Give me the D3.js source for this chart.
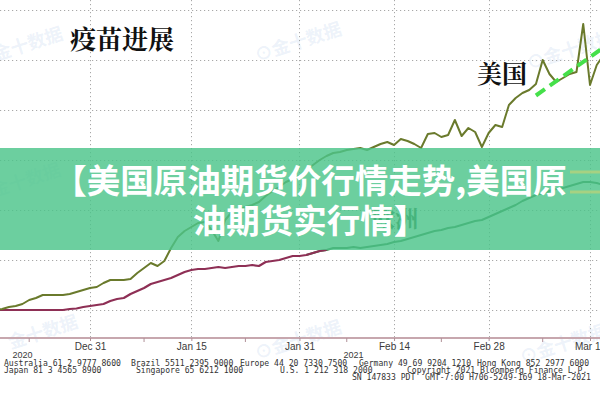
<!DOCTYPE html>
<html><head><meta charset="utf-8">
<script src="https://cdn.jsdelivr.net/npm/d3@7"></script>
<style>html,body{margin:0;padding:0;background:#fff;} svg{display:block}</style>
</head><body><svg id="c" width="600" height="400"></svg>
<script>
// ---------- data ----------
const usStart = "2020-12-17";
const usValues = [0,0.2,0.6,0.8,1.2,2,2.4,3,3,3,3,3.2,3.6,4,
  4.4,4.6,5.4,6,6,6,6.2,7.4,8.4,9.4,8.8,9.8,12.4,14.6,15.8,16.6,17.4,17.6,16,13.8,18,19.6,20.2,20.6,21,21.6,22.8,23.8,24.6,25.6,26.2,26.8,
  28,29,30,30.8,31.4,31.6,32,32.2,32.4,32,32.6,33.2,33.6,33,34.2,33.8,33.2,32.4,35.2,35.4,34.6,35,38,34.8,36.4,35.6,32.6,
  35.4,37,36.6,41,42.4,43.4,44,45.2,50,47.2,45.6,46.4,47.2,47.6,57.2,45,49,51];
const maroonStart = "2020-12-17";
const maroonValues = [0,0,0,0,0,0,0,0,0,0,0,0.2,0.3,0.6,
  0.8,1,1.2,1.8,2.2,2.4,3.2,3.8,4.4,5.2,5.6,6,6.4,7,7.6,8,8.2,8.2,8.4,8.6,8.4,8.6,8.8,8.8,9,8.8,9.6,9.8,10,10.4,10.8,10.8,
  11,11.4,11.8,12];
const europeStart = "2021-02-01";
const europeValues = [11,11.4,11.8,12,12.4,12.4,12.4,12.6,12.4,12.6,12.8,13,13.2,13.6,13.8,14.2,14.6,15,15.4,15.8,16,16.4,16.6,17,17.4,17.8,18,
  18.6,19.2,19.8,20.4,21,21.8,22.4,23,23.4,23.8,24.2,24.4,24.8,25.2,25.6,25.6,25.4,25];
const trendDates = ["2021-03-07","2021-03-17"];
const trendValues = [42.9, 52.5];
const tickDates = ["2020-12-31","2021-01-15","2021-01-31","2021-02-14","2021-02-28","2021-03-15"];
const tickLabels = ["Dec 31","Jan 15","Jan 31","Feb 14","Feb 28","Mar 15"];
const minorTickDates = ["2020-12-22","2021-01-08","2021-01-23","2021-02-07","2021-02-21","2021-03-08"];
const yGridValues = [0,10,20,30,40,50,60];
const yearLabels = [["2020","2020-12-21"],["2021","2021-02-08"]];
const title = "疫苗进展";
const usLabel = "美国";
const euLabel = "欧洲";
const bannerLines = ["【美国原油期货价行情走势,美国原","油期货实行情】"];
const footer = [
  ["Australia 61 2 9777 8600",4,366],["Brazil 5511 2395 9000",131,366],["Europe 44 20 7330 7500",240,366],
  ["Germany 49 69 9204 1210",359,366],["Hong Kong 852 2977 6000",477,366],
  ["Japan 81 3 4565 8900",4,373],["Singapore 65 6212 1000",136,373],["U.S. 1 212 318 2000",280,373],
  ["Copyright 2021 Bloomberg Finance L.P.",407,373],
  ["SN 147833 PDT  GMT-7:00 H706-5249-169 18-Mar-2021",352,380]
];
const watermarks = [["金十数据",30,50],["⊙金十数据",300,48],["⊙金十数据",572,56],["金十数据",28,186],
  ["金十数据",45,338],["⊙金十数据",300,346],["⊙金十数据",565,350]];

// ---------- setup ----------
const parse = d3.utcParse("%Y-%m-%d");
const svg = d3.select("#c");
const x = d3.scaleUtc().domain([parse("2020-12-31"), parse("2021-03-15")]).range([90, 590]);
const y = d3.scaleLinear().domain([0, 60]).range([310, 10]);
const series = (start, vals) => vals.map((v,i)=>({d: d3.utcDay.offset(parse(start), i), v}));
const line = d3.line().x(p=>x(p.d)).y(p=>y(p.v));

svg.append("rect").attr("width",600).attr("height",400).attr("fill","#fff");

// watermarks
svg.append("g").selectAll("text").data(watermarks).join("text")
  .attr("transform", d=>`translate(${d[1]},${d[2]}) rotate(-18)`)
  .attr("text-anchor","middle").attr("font-family","Noto Sans CJK SC").attr("font-weight","bold")
  .attr("font-size",18).attr("fill","rgba(120,160,215,0.14)").text(d=>d[0]);

// grid
const grid = svg.append("g").attr("stroke","#a8a8a8").attr("stroke-width",1).attr("stroke-dasharray","1.2,2.8");
grid.selectAll(".h").data(yGridValues).join("line").attr("x1",0).attr("x2",600)
  .attr("y1",d=>y(d)+0.5).attr("y2",d=>y(d)+0.5);
grid.selectAll(".v").data(tickDates).join("line").attr("y1",0).attr("y2",338)
  .attr("x1",d=>Math.round(x(parse(d)))+0.5).attr("x2",d=>Math.round(x(parse(d)))+0.5);

// europe label (under banner)
svg.append("text").attr("x",372).attr("y",227).attr("font-family","Noto Serif CJK SC, Noto Sans CJK SC")
  .attr("font-weight","bold").attr("font-size",23).attr("fill","#2f6a3c").text(euLabel);

// lines
svg.append("path").datum(series(europeStart, europeValues)).attr("d",line)
  .attr("fill","none").attr("stroke","#3d7a46").attr("stroke-width",2).attr("stroke-linejoin","round");
svg.append("path").datum(series(maroonStart, maroonValues)).attr("d",line)
  .attr("fill","none").attr("stroke","#8e2f55").attr("stroke-width",2.2).attr("stroke-linejoin","round");
svg.append("path").datum(series(usStart, usValues)).attr("d",line)
  .attr("fill","none").attr("stroke","#6a7a2c").attr("stroke-width",2).attr("stroke-linejoin","round");
svg.append("path").datum(trendDates.map((d,i)=>({d:parse(d), v:trendValues[i]}))).attr("d",line)
  .attr("fill","none").attr("stroke","#45e04a").attr("stroke-width",4).attr("stroke-dasharray","11,6");

// labels
svg.append("text").attr("x",70).attr("y",49).attr("font-family","Noto Serif CJK SC, Noto Sans CJK SC")
  .attr("font-weight","bold").attr("font-size",26).attr("fill","#111").text(title);
svg.append("text").attr("x",477).attr("y",83).attr("font-family","Noto Serif CJK SC, Noto Sans CJK SC")
  .attr("font-weight","bold").attr("font-size",25).attr("fill","#111").text(usLabel);

// axis
svg.append("line").attr("x1",0).attr("x2",600).attr("y1",338).attr("y2",338)
  .attr("stroke","#c7a7ae").attr("stroke-width",2);
const ax = svg.append("g").attr("transform","translate(0,338)")
  .call(d3.axisBottom(x).tickValues(tickDates.map(parse)).tickFormat((d,i)=>tickLabels[i]).tickSize(3).tickPadding(2));
ax.select(".domain").remove();
ax.selectAll(".tick line").attr("stroke","#b09098");
ax.selectAll(".tick text").attr("font-family","Liberation Sans, Arial").attr("font-size",10).attr("fill","#3a3a3a");
svg.append("g").selectAll("line").data(minorTickDates).join("line")
  .attr("x1",d=>x(parse(d))).attr("x2",d=>x(parse(d))).attr("y1",338).attr("y2",342)
  .attr("stroke","#b09098").attr("stroke-width",1);
svg.append("g").selectAll("text").data(yearLabels).join("text")
  .attr("x",d=>x(parse(d[1]))).attr("y",358).attr("text-anchor","middle")
  .attr("font-family","Liberation Sans, Arial").attr("font-size",9).attr("fill","#3a3a3a").text(d=>d[0]);

// footer
svg.append("g").selectAll("text").data(footer).join("text")
  .attr("x",d=>d[1]).attr("y",d=>d[2]).attr("font-family","DejaVu Sans Mono, Liberation Mono")
  .attr("font-size",8.1).attr("fill","#333").attr("style","white-space:pre").text(d=>d[0]);

// banner
svg.append("rect").attr("x",0).attr("y",148).attr("width",600).attr("height",102)
  .attr("fill","rgba(76,196,138,0.82)");
svg.append("g").selectAll("line").data([172,192]).join("line")
  .attr("x1",570).attr("x2",600).attr("y1",d=>d).attr("y2",d=>d)
  .attr("stroke","rgba(185,210,120,0.75)").attr("stroke-width",3);
svg.append("g").selectAll("text").data(bannerLines).join("text")
  .attr("x",310).attr("y",(d,i)=>193+i*40).attr("text-anchor","middle")
  .attr("font-family","Noto Sans CJK SC").attr("font-weight","bold").attr("font-size",33.5)
  .attr("fill","#fff").text(d=>d);
</script></body></html>
